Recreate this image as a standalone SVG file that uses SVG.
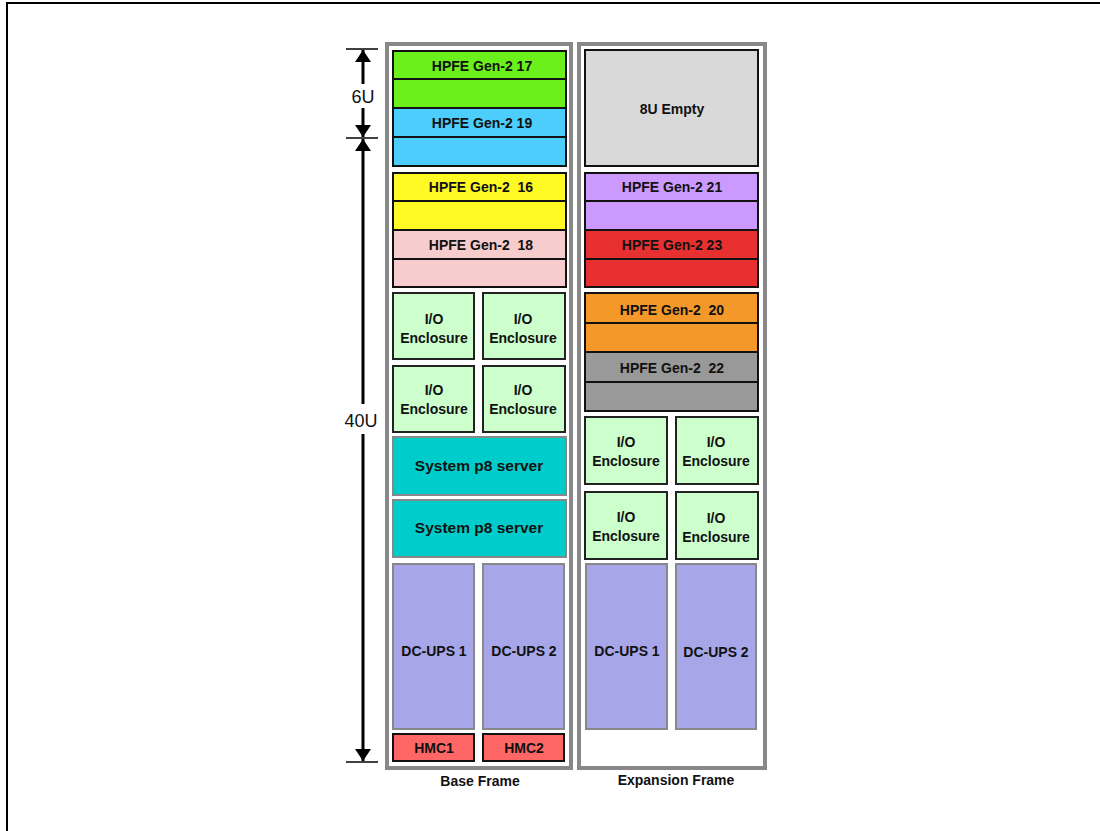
<svg xmlns="http://www.w3.org/2000/svg" width="1100" height="831" viewBox="0 0 1100 831">
<style>
.t{font-family:"Liberation Sans",Arial,sans-serif;font-weight:bold;font-size:14px;text-anchor:middle;fill:#111;white-space:pre}
.d{font-family:"Liberation Sans",Arial,sans-serif;font-size:18px;text-anchor:middle;fill:#111}
.blk{stroke:#111;stroke-width:2}
.gb{stroke:#888;stroke-width:2}
.frame{fill:#fff;stroke:#888;stroke-width:4}
.io{fill:#ccffcc;stroke:#222;stroke-width:2}
.ups{fill:#a6a6e8;stroke:#888;stroke-width:2}
</style>
<defs>
<marker id="ah" viewBox="0 0 12 16" refX="12" refY="8" markerWidth="12" markerHeight="16" markerUnits="userSpaceOnUse" orient="auto">
<path d="M0,0 L12,8 L0,16 Z" fill="#000"/>
</marker>
</defs>
<rect x="7" y="3" width="1110" height="850" fill="none" stroke="#000" stroke-width="2"/>
<g id="dimensions">
<line x1="346" y1="49" x2="378" y2="49" stroke="#000" stroke-width="1.5"/>
<line x1="346" y1="138" x2="378" y2="138" stroke="#000" stroke-width="1.5"/>
<line x1="346" y1="762" x2="378" y2="762" stroke="#000" stroke-width="1.5"/>
<line x1="363" y1="84" x2="363" y2="50" stroke="#000" stroke-width="3" marker-end="url(#ah)"/>
<line x1="363" y1="108" x2="363" y2="137" stroke="#000" stroke-width="3" marker-end="url(#ah)"/>
<line x1="363" y1="404" x2="363" y2="139" stroke="#000" stroke-width="3" marker-end="url(#ah)"/>
<line x1="363" y1="434" x2="363" y2="761" stroke="#000" stroke-width="3" marker-end="url(#ah)"/>
<text class="d" x="363" y="103">6U</text>
<text class="d" x="361" y="427">40U</text>
</g>
<g id="base-frame">
<rect class="frame" x="387" y="44" width="184" height="724"/>
<text class="t" x="480" y="786">Base Frame</text>
</g>
<g id="expansion-frame">
<rect class="frame" x="579" y="44" width="186" height="724"/>
<text class="t" x="676" y="785">Expansion Frame</text>
</g>
<g id="hpfe17">
<rect class="blk" x="393" y="51" width="173" height="28" fill="#6bf01c"/>
<rect class="blk" x="393" y="79" width="173" height="29" fill="#6bf01c"/>
<text class="t" x="482" y="71">HPFE Gen-2 17</text>
</g>
<g id="hpfe19">
<rect class="blk" x="393" y="108" width="173" height="29" fill="#4ccdfb"/>
<rect class="blk" x="393" y="137" width="173" height="29" fill="#4ccdfb"/>
<text class="t" x="482" y="128">HPFE Gen-2 19</text>
</g>
<g id="hpfe16">
<rect class="blk" x="393" y="173" width="173" height="28" fill="#fffa23"/>
<rect class="blk" x="393" y="201" width="173" height="29" fill="#fffa23"/>
<text class="t" x="481" y="192">HPFE Gen-2  16</text>
</g>
<g id="hpfe18">
<rect class="blk" x="393" y="230" width="173" height="29" fill="#f6cccc"/>
<rect class="blk" x="393" y="259" width="173" height="28" fill="#f6cccc"/>
<text class="t" x="481" y="250">HPFE Gen-2  18</text>
</g>
<g id="base-io1"><rect class="io" x="393" y="293" width="81" height="66"/><text class="t" x="434" y="324">I/O</text><text class="t" x="434" y="343">Enclosure</text></g>
<g id="base-io2"><rect class="io" x="483" y="293" width="82" height="66"/><text class="t" x="523" y="324">I/O</text><text class="t" x="523" y="343">Enclosure</text></g>
<g id="base-io3"><rect class="io" x="393" y="366" width="81" height="66"/><text class="t" x="434" y="395">I/O</text><text class="t" x="434" y="414">Enclosure</text></g>
<g id="base-io4"><rect class="io" x="483" y="366" width="82" height="66"/><text class="t" x="523" y="395">I/O</text><text class="t" x="523" y="414">Enclosure</text></g>
<g id="server1"><rect class="gb" x="393" y="437" width="173" height="58" fill="#00cccc"/><text class="t" x="479" y="471" style="font-size:15.5px">System p8 server</text></g>
<g id="server2"><rect class="gb" x="393" y="500" width="173" height="57" fill="#00cccc"/><text class="t" x="479" y="533" style="font-size:15.5px">System p8 server</text></g>
<g id="base-ups1"><rect class="ups" x="393" y="564" width="81" height="165"/><text class="t" x="434" y="656">DC-UPS 1</text></g>
<g id="base-ups2"><rect class="ups" x="483" y="564" width="81" height="165"/><text class="t" x="524" y="656">DC-UPS 2</text></g>
<g id="hmc1"><rect class="blk" x="393" y="734" width="81" height="27" fill="#ff6666"/><text class="t" x="434" y="753">HMC1</text></g>
<g id="hmc2"><rect class="blk" x="483" y="734" width="81" height="27" fill="#ff6666"/><text class="t" x="524" y="753">HMC2</text></g>
<g id="empty8u"><rect class="blk" x="585" y="50" width="173" height="116" fill="#d9d9d9"/><text class="t" x="672" y="114">8U Empty</text></g>
<g id="hpfe21">
<rect class="blk" x="585" y="173" width="173" height="28" fill="#cc99ff"/>
<rect class="blk" x="585" y="201" width="173" height="29" fill="#cc99ff"/>
<text class="t" x="672" y="192">HPFE Gen-2 21</text>
</g>
<g id="hpfe23">
<rect class="blk" x="585" y="230" width="173" height="29" fill="#e83030"/>
<rect class="blk" x="585" y="259" width="173" height="28" fill="#e83030"/>
<text class="t" x="672" y="250">HPFE Gen-2 23</text>
</g>
<g id="hpfe20">
<rect class="blk" x="585" y="293" width="173" height="30" fill="#f4982a"/>
<rect class="blk" x="585" y="323" width="173" height="29" fill="#f4982a"/>
<text class="t" x="672" y="315">HPFE Gen-2  20</text>
</g>
<g id="hpfe22">
<rect class="blk" x="585" y="352" width="173" height="30" fill="#999999"/>
<rect class="blk" x="585" y="382" width="173" height="29" fill="#999999"/>
<text class="t" x="672" y="373">HPFE Gen-2  22</text>
</g>
<g id="exp-io1"><rect class="io" x="585" y="417" width="82" height="67"/><text class="t" x="626" y="447">I/O</text><text class="t" x="626" y="466">Enclosure</text></g>
<g id="exp-io2"><rect class="io" x="676" y="417" width="82" height="67"/><text class="t" x="716" y="447">I/O</text><text class="t" x="716" y="466">Enclosure</text></g>
<g id="exp-io3"><rect class="io" x="585" y="492" width="82" height="67"/><text class="t" x="626" y="522">I/O</text><text class="t" x="626" y="541">Enclosure</text></g>
<g id="exp-io4"><rect class="io" x="676" y="492" width="82" height="67"/><text class="t" x="716" y="523">I/O</text><text class="t" x="716" y="542">Enclosure</text></g>
<g id="exp-ups1"><rect class="ups" x="586" y="564" width="81" height="165"/><text class="t" x="627" y="656">DC-UPS 1</text></g>
<g id="exp-ups2"><rect class="ups" x="676" y="564" width="80" height="165"/><text class="t" x="716" y="657">DC-UPS 2</text></g>
<g id="connectors"></g>
</svg>
